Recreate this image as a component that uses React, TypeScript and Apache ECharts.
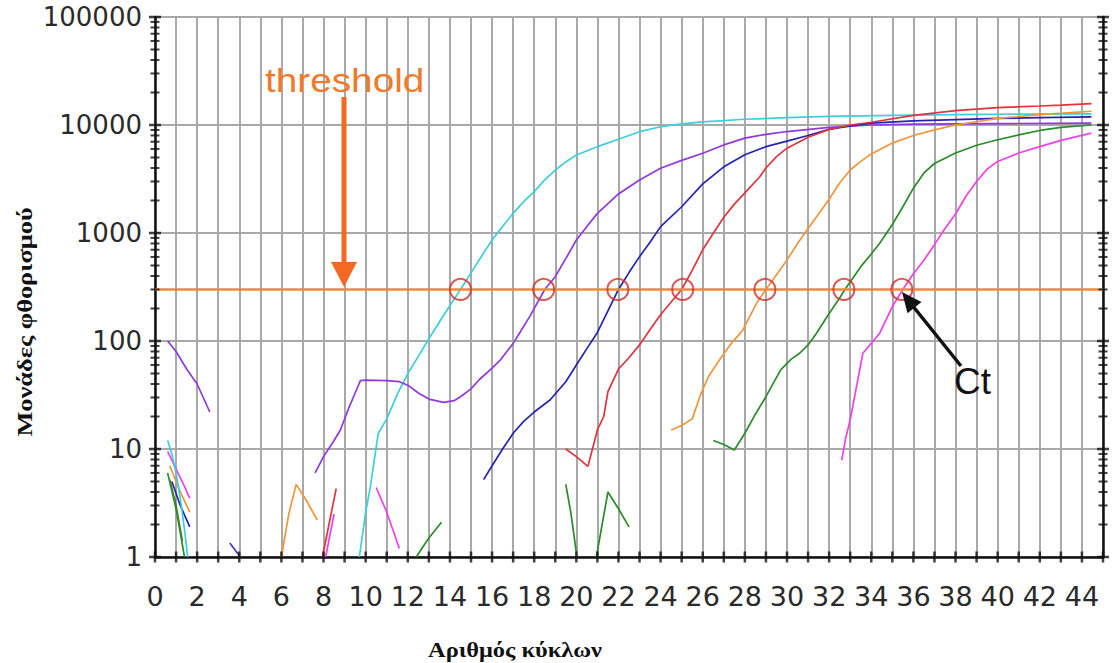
import React, { useEffect, useRef } from "react";
import * as echarts from "echarts";

// ---- axis / label data ----
const xLabelValues = [0, 2, 4, 6, 8, 10, 12, 14, 16, 18, 20, 22, 24, 26, 28, 30, 32, 34, 36, 38, 40, 42, 44];
const yLabelValues = [1, 10, 100, 1000, 10000, 100000];
const minorMultipliers = [2, 3, 4, 5, 6, 7, 8, 9];
const cycleTickValues = [
  0, 1, 2, 3, 4, 5, 6, 7, 8, 9, 10, 11, 12, 13, 14, 15, 16, 17, 18, 19, 20, 21, 22,
  23, 24, 25, 26, 27, 28, 29, 30, 31, 32, 33, 34, 35, 36, 37, 38, 39, 40, 41, 42, 43, 44, 45,
];
const xMin = 0;
const xMax = 45;
const thresholdValue = 300;
const ctCycles = [14.5, 18.45, 21.97, 25.05, 28.95, 32.7, 35.45];

// ---- amplification curves: [cycle, fluorescence] ----
const cyanCurve = [
  [9.7, 1], [10, 2.6], [10.2, 4.2], [10.6, 14], [11, 19], [11.5, 32], [12, 50], [12.5, 72],
  [13, 105], [13.5, 150], [14, 213], [14.5, 300], [15, 427], [15.5, 610], [16, 861], [16.5, 1150],
  [17, 1520], [17.5, 1950], [18, 2414], [18.5, 3100], [19, 3830], [19.5, 4550], [20, 5270],
  [21, 6300], [22, 7370], [23, 8670], [24, 9640], [25, 10230], [26, 10700], [28, 11300],
  [30, 11700], [32, 12000], [35, 12300], [38, 12500], [41, 12600], [44.45, 12700],
];
const purpleCurve = [
  [7.6, 6], [8, 8.5], [8.5, 12], [8.8, 15], [9.2, 24], [9.5, 33], [9.75, 43], [10, 43.5],
  [11, 43], [11.6, 42], [12, 39], [12.5, 33], [13, 29], [13.7, 27], [14.2, 28], [14.5, 30.5],
  [15, 36], [15.4, 44], [16, 56], [16.4, 67], [17, 95], [17.3, 118], [17.8, 170], [18.5, 300],
  [19, 394], [19.5, 580], [20, 861], [20.5, 1150], [21, 1520], [22, 2300], [23, 3100],
  [24, 3980], [25, 4700], [26, 5480], [27, 6540], [28, 7550], [29, 8200], [30, 8700],
  [32, 9500], [34, 10000], [36, 10200], [40, 10300], [44.45, 10400],
];
const blueCurve = [
  [15.6, 5.2], [16, 7], [16.5, 10], [17, 14], [17.5, 18], [18, 22], [18.75, 28.4], [19.5, 42],
  [20, 60], [20.5, 85], [21, 120], [21.5, 190], [22, 300], [22.5, 430], [23, 604], [23.5, 820],
  [24, 1145], [25, 1750], [26, 2850], [27, 4100], [28, 5300], [29, 6300], [30, 7100],
  [31, 8000], [32, 9100], [33, 9800], [34, 10400], [36, 10900], [38, 11200], [40, 11500],
  [42, 11700], [44.45, 11900],
];
const redCurve = [
  [19.5, 10], [20, 8.5], [20.55, 6.9], [21, 15], [21.3, 20], [21.5, 34], [22, 55], [22.5, 70],
  [23, 92], [23.6, 136], [24, 175], [24.5, 230], [25, 300], [25.5, 450], [26, 700],
  [26.5, 994], [27, 1400], [27.5, 1850], [28, 2350], [28.7, 3300], [29, 4000], [29.5, 5100],
  [30, 6100], [31, 7700], [32, 9100], [33, 10000], [34, 10600], [36, 12300], [38, 13600],
  [40, 14500], [42, 15000], [43, 15300], [44.45, 15800],
];
const orangeCurve = [
  [24.5, 15], [25, 16.5], [25.5, 19], [25.9, 32], [26.3, 48], [26.8, 67], [27.3, 92],
  [27.9, 126], [28.55, 223], [29, 300], [29.5, 410], [30, 562], [30.5, 800], [31, 1100],
  [31.5, 1500], [32, 2050], [32.5, 2900], [33, 3830], [33.5, 4600], [34, 5400], [35, 6800],
  [36, 8000], [37, 9000], [38, 10000], [40, 11500], [42, 12500], [44.45, 13400],
];
const greenCurve = [
  [26.5, 12], [27, 11], [27.5, 9.8], [28, 14], [28.5, 21], [29, 30.5], [29.7, 54], [30.2, 68],
  [30.6, 77], [31, 92], [31.4, 118], [32, 180], [32.5, 250], [32.75, 300], [33.5, 488],
  [34, 640], [34.4, 803], [35, 1200], [35.5, 1750], [36, 2600], [36.5, 3600], [37, 4400],
  [38, 5500], [39, 6500], [40, 7300], [41, 8100], [42, 8900], [43, 9500], [44.45, 10000],
];
const magentaCurve = [
  [32.6, 7.9], [32.8, 13], [33, 18.6], [33.3, 37.8], [33.6, 77], [34, 95], [34.4, 118],
  [35, 208], [35.5, 300], [36, 420], [36.5, 560], [37, 780], [37.5, 1100], [38, 1500],
  [38.5, 2200], [39, 3000], [39.5, 3900], [40, 4600], [41, 5500], [42, 6300], [43, 7200],
  [44.45, 8400],
];

// ---- noise fragments near the baseline ----
const cyanNoise = [[0.6, 12], [0.8, 9], [1.0, 6], [1.2, 3.5], [1.4, 1.8], [1.55, 1]];
const magentaNoise = [[0.6, 9.5], [1.0, 6.5], [1.4, 4.5], [1.65, 3.5]];
const orangeNoise = [[0.7, 7], [1.2, 4], [1.65, 2.6]];
const blueNoise = [[0.8, 5], [1.2, 3], [1.65, 1.9]];
const greenNoise = [[0.6, 6], [1.0, 2.8], [1.4, 1]];
const oliveNoise = [[0.7, 5.2], [1.0, 3], [1.3, 1.4]];
const purpleNoise = [[0.6, 100], [1.0, 80], [1.5, 55], [2.0, 40], [2.6, 22]];
const indigoNoise = [[3.55, 1.35], [4.05, 1]];
const orangeNoise2 = [[6.0, 1], [6.35, 2.5], [6.7, 4.7], [7.2, 3.3], [7.7, 2.2]];
const redNoise = [[7.95, 1], [8.3, 2.2], [8.6, 4.3]];
const pinkNoise = [[8.1, 1], [8.5, 2.5]];
const magentaNoise2 = [[10.5, 4.4], [11.0, 2.6], [11.6, 1.2]];
const greenNoise2 = [[12.4, 1], [13.0, 1.5], [13.6, 2.1]];
const greenNoise3 = [[19.5, 4.7], [19.75, 2.5], [20.0, 1.1]];
const greenNoise4 = [[20.95, 1], [21.5, 4], [22.0, 2.8], [22.5, 1.9]];

const COLORS = {
  cyan: "#3ccfdd",
  purple: "#9138df",
  blue: "#2424b4",
  red: "#e0343c",
  orange: "#f2953a",
  green: "#2a8c2a",
  magenta: "#ee40ee",
  olive: "#6a6a1a",
  indigo: "#4a3aa8",
};

const lines: { data: number[][]; color: string }[] = [
  { data: purpleNoise, color: COLORS.purple },
  { data: oliveNoise, color: COLORS.olive },
  { data: greenNoise, color: COLORS.green },
  { data: blueNoise, color: COLORS.blue },
  { data: orangeNoise, color: COLORS.orange },
  { data: magentaNoise, color: COLORS.magenta },
  { data: cyanNoise, color: COLORS.cyan },
  { data: indigoNoise, color: COLORS.indigo },
  { data: orangeNoise2, color: COLORS.orange },
  { data: redNoise, color: COLORS.red },
  { data: pinkNoise, color: COLORS.magenta },
  { data: magentaNoise2, color: COLORS.magenta },
  { data: greenNoise2, color: COLORS.green },
  { data: greenNoise3, color: COLORS.green },
  { data: greenNoise4, color: COLORS.green },
  { data: cyanCurve, color: COLORS.cyan },
  { data: purpleCurve, color: COLORS.purple },
  { data: blueCurve, color: COLORS.blue },
  { data: redCurve, color: COLORS.red },
  { data: orangeCurve, color: COLORS.orange },
  { data: greenCurve, color: COLORS.green },
  { data: magentaCurve, color: COLORS.magenta },
];

export default function App() {
  const ref = useRef<HTMLDivElement>(null);

  useEffect(() => {
    document.body.style.margin = "0";
    if (!ref.current) return;
    const chart = echarts.init(ref.current, null, { renderer: "svg" });

    const majorTicks: number[][] = [];
    const minorTicks: number[][] = [];
    [xMin, xMax].forEach((x) => {
      yLabelValues.forEach((d, i) => {
        majorTicks.push([x, d]);
        if (i < yLabelValues.length - 1) {
          minorMultipliers.forEach((m) => minorTicks.push([x, d * m]));
        }
      });
    });
    const xTicks = cycleTickValues.map((c) => [c, yLabelValues[0]]);

    const tickSeries = (data: number[][], size: number[]) => ({
      type: "scatter",
      data,
      symbol: "rect",
      symbolSize: size,
      itemStyle: { color: "#111" },
      silent: true,
      clip: false,
      z: 10,
    });

    const option: any = {
      animation: false,
      backgroundColor: "#ffffff",
      grid: { left: 155, right: 12, top: 17, bottom: 106, outerBoundsMode: "none" },
      xAxis: {
        type: "value",
        min: xMin,
        max: xMax,
        interval: 1,
        axisLine: { show: true, onZero: false, lineStyle: { color: "#111", width: 2.5 } },
        axisTick: { show: false },
        axisLabel: {
          show: true,
          margin: 26,
          fontFamily: "DejaVu Sans",
          fontSize: 27,
          color: "#2a2a2a",
          formatter: (v: number) => (xLabelValues.indexOf(Math.round(v)) >= 0 ? String(Math.round(v)) : ""),
        },
        splitLine: { show: true, lineStyle: { color: "#a9a9a9", width: 2 } },
      },
      yAxis: [
        {
          type: "log",
          logBase: 10,
          min: 1,
          max: 100000,
          axisLine: { show: true, onZero: false, lineStyle: { color: "#111", width: 2.5 } },
          axisTick: { show: false },
          axisLabel: {
            margin: 13,
            fontFamily: "DejaVu Sans",
            fontSize: 26,
            color: "#2a2a2a",
            padding: [12, 0, 0, 0],
            formatter: (v: number) => String(Math.round(v)),
          },
          splitLine: { show: true, lineStyle: { color: "#a9a9a9", width: 2 } },
        },
        {
          type: "log",
          logBase: 10,
          min: 1,
          max: 100000,
          position: "right",
          axisLine: { show: true, onZero: false, lineStyle: { color: "#111", width: 2.5 } },
          axisTick: { show: false },
          axisLabel: { show: false },
          splitLine: { show: false },
        },
      ],
      series: [
        ...lines.map((l) => ({
          type: "line",
          data: l.data,
          showSymbol: false,
          symbol: "none",
          lineStyle: { color: l.color, width: 1.7 },
          itemStyle: { color: l.color },
          silent: true,
          z: 3,
        })),
        {
          type: "line",
          data: [[xMin, thresholdValue], [xMax, thresholdValue]],
          showSymbol: false,
          symbol: "none",
          lineStyle: { color: "#f08a3c", width: 2.5 },
          silent: true,
          z: 4,
        },
        {
          type: "scatter",
          data: ctCycles.map((c) => [c, thresholdValue]),
          symbol: "circle",
          symbolSize: 21,
          itemStyle: { color: "rgba(0,0,0,0)", borderColor: "#d2302b", borderWidth: 2 },
          silent: true,
          z: 5,
        },
        tickSeries(majorTicks, [12, 2.5]),
        tickSeries(minorTicks, [9, 2]),
        tickSeries(xTicks, [2.5, 11]),
      ],
      graphic: [
        {
          type: "text",
          x: 265,
          y: 80,
          style: {
            text: "threshold",
            fill: "#f07a2a",
            font: "34px 'Liberation Sans', Arial, sans-serif",
            align: "left",
            verticalAlign: "middle",
          },
          scaleX: 1.14,
          z: 20,
        },
        {
          type: "rect",
          shape: { x: 341.5, y: 97, width: 5, height: 168 },
          style: { fill: "#f26a21" },
          z: 20,
        },
        {
          type: "polygon",
          shape: { points: [[331, 262], [357, 262], [344, 287]] },
          style: { fill: "#f26a21" },
          z: 20,
        },
        {
          type: "text",
          x: 954,
          y: 381,
          style: {
            text: "Ct",
            fill: "#111",
            font: "37px 'Liberation Sans', Arial, sans-serif",
            align: "left",
            verticalAlign: "middle",
          },
          z: 20,
        },
        {
          type: "line",
          shape: { x1: 961, y1: 366, x2: 912, y2: 305 },
          style: { stroke: "#111", lineWidth: 3.5 },
          z: 20,
        },
        {
          type: "polygon",
          shape: { points: [[902, 292], [921.5, 302], [907.5, 313.2]] },
          style: { fill: "#111" },
          z: 20,
        },
        {
          type: "text",
          x: 24,
          y: 322,
          rotation: Math.PI / 2,
          scaleX: 1.2,
          style: {
            text: "Μονάδες φθορισμού",
            fill: "#111",
            font: "bold 22px 'Liberation Serif', 'DejaVu Serif', serif",
            align: "center",
            verticalAlign: "middle",
          },
          z: 20,
        },
        {
          type: "text",
          x: 515,
          y: 649,
          scaleX: 1.11,
          style: {
            text: "Αριθμός κύκλων",
            fill: "#111",
            font: "bold 22px 'Liberation Serif', 'DejaVu Serif', serif",
            align: "center",
            verticalAlign: "middle",
          },
          z: 20,
        },
      ],
    };

    chart.setOption(option);
    return () => chart.dispose();
  }, []);

  return (
    <div
      ref={ref}
      style={{ position: "absolute", left: 0, top: 0, width: 1115, height: 663, background: "#fff" }}
    />
  );
}
